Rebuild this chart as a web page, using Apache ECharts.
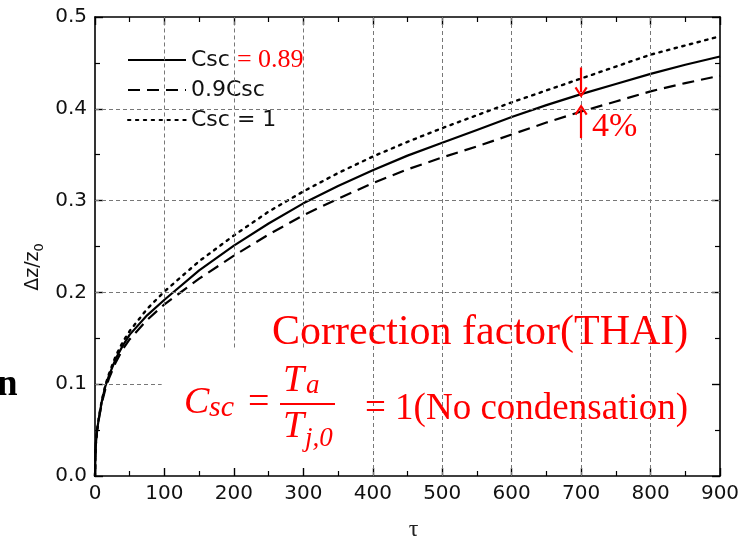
<!DOCTYPE html>
<html>
<head>
<meta charset="utf-8">
<script src="https://cdn.jsdelivr.net/npm/echarts@6/dist/echarts.min.js"></script>
<style>html,body{margin:0;padding:0;background:#fff}#c{width:747px;height:547px}</style>
</head>
<body>
<div id="c"></div>
<script>
// ---- data ----
const tau      = [0, 1, 3, 6, 10, 15, 20, 30, 40, 50, 75, 100, 150, 200, 250, 300, 350, 400, 450, 500, 550, 600, 650, 700, 750, 800, 850, 900];
const cscMain  = [0, 0.033, 0.050, 0.065, 0.082, 0.098, 0.109, 0.128, 0.142, 0.154, 0.175, 0.192, 0.224, 0.251, 0.275, 0.297, 0.316, 0.333, 0.349, 0.363, 0.377, 0.391, 0.404, 0.416, 0.427, 0.438, 0.448, 0.457];
const csc09    = [0, 0.032, 0.049, 0.064, 0.080, 0.095, 0.106, 0.124, 0.138, 0.149, 0.170, 0.187, 0.215, 0.240, 0.263, 0.284, 0.302, 0.319, 0.334, 0.347, 0.359, 0.372, 0.385, 0.397, 0.408, 0.419, 0.428, 0.436];
const csc1     = [0, 0.033, 0.050, 0.066, 0.083, 0.099, 0.111, 0.131, 0.146, 0.158, 0.182, 0.201, 0.234, 0.262, 0.288, 0.310, 0.330, 0.348, 0.364, 0.379, 0.393, 0.407, 0.420, 0.433, 0.446, 0.459, 0.469, 0.479];
const seriesNames = ['Csc', '0.9Csc', 'Csc = 1'];
const xTickMax = 900, xTickStep = 100;
const yTickMax = 0.5, yTickStep = 0.1;
// grid lines (partially hidden in the reference)
const xGridFull = [400, 500, 600, 700, 800];
const xGridCut = [100, 200, 300];   // start above yCut
const yCut = 0.14;
const yGridFull = [0.2, 0.3, 0.4];
const yGridShort = [0.1];           // only up to xShort
const xShort = 96;
// arrows at tau = 700
const arrowTau = 700;
const arrowDown = [0.445, 0.418];
const arrowUp = [0.368, 0.399];

const chart = echarts.init(document.getElementById('c'), null, {renderer: 'canvas'});
const RED = '#ff0000';
const tickFont = 'DejaVu Sans';

const gridStyle = {color: '#777', type: [4, 3], width: 1};
const gridLines = [];
xGridFull.forEach(v => gridLines.push([{coord: [v, 0]}, {coord: [v, yTickMax]}]));
xGridCut.forEach(v => gridLines.push([{coord: [v, yCut]}, {coord: [v, yTickMax]}]));
yGridFull.forEach(v => gridLines.push([{coord: [0, v]}, {coord: [xTickMax, v]}]));
yGridShort.forEach(v => gridLines.push([{coord: [0, v]}, {coord: [xShort, v]}]));

const vArrow = 'path://M5,0 L10,9 L8.6,10 L5,3.5 L1.4,10 L0,9 Z';

function axisCommon(showLabel, fmt) {
  return {
    axisLine: {show: true, onZero: false, lineStyle: {color: '#000', width: 1.6}},
    axisTick: {show: true, inside: true, length: 8, lineStyle: {color: '#000', width: 1.4}},
    minorTick: {show: true, splitNumber: 2, length: 5, lineStyle: {color: '#000', width: 1.2}},
    splitLine: {show: false},
    axisLabel: {show: showLabel, color: '#111', fontFamily: tickFont, fontSize: 20, formatter: fmt}
  };
}

const option = {
  animation: false,
  backgroundColor: '#fff',
  grid: {left: 95, right: 27, top: 17, bottom: 70, containLabel: false},
  xAxis: [
    Object.assign({type: 'value', min: 0, max: xTickMax, interval: xTickStep, position: 'bottom',
      name: 'τ', nameLocation: 'middle', nameGap: 42,
      nameTextStyle: {fontFamily: 'Liberation Serif', fontSize: 24, color: '#222', padding: [0, 0, 0, 12]}},
      axisCommon(true, v => String(v))),
    Object.assign({type: 'value', min: 0, max: xTickMax, interval: xTickStep, position: 'top'}, axisCommon(false))
  ],
  yAxis: [
    Object.assign({type: 'value', min: 0, max: yTickMax, interval: yTickStep, position: 'left'},
      axisCommon(true, v => v.toFixed(1))),
    Object.assign({type: 'value', min: 0, max: yTickMax, interval: yTickStep, position: 'right'}, axisCommon(false))
  ],
  legend: {
    left: 122, top: 41, orient: 'vertical', itemWidth: 58, itemHeight: 14, itemGap: 2,
    selectedMode: false,
    itemStyle: {opacity: 0},
    data: seriesNames,
    textStyle: {fontFamily: tickFont, fontSize: 22, color: '#111', lineHeight: 28,
      rich: {r: {fontFamily: 'Liberation Serif', fontSize: 26, color: RED, lineHeight: 28}}},
    formatter: function (n) { return n === 'Csc' ? 'Csc {r|= 0.89}' : n; }
  },
  series: [
    {
      name: 'grid', type: 'line', data: [], silent: true, z: 1,
      markLine: {silent: true, symbol: ['none', 'none'], label: {show: false}, lineStyle: gridStyle,
        emphasis: {disabled: true}, data: gridLines, animation: false}
    },
    {name: seriesNames[0], type: 'line', data: tau.map((t, i) => [t, cscMain[i]]), showSymbol: false, symbol: 'none',
      smooth: false, lineStyle: {color: '#000', width: 2.2, type: 'solid'}, itemStyle: {color: '#000'}, z: 3},
    {name: seriesNames[1], type: 'line', data: tau.map((t, i) => [t, csc09[i]]), showSymbol: false, symbol: 'none',
      smooth: false, lineStyle: {color: '#000', width: 2.2, type: [12, 7]}, itemStyle: {color: '#000'}, z: 3},
    {name: seriesNames[2], type: 'line', data: tau.map((t, i) => [t, csc1[i]]), showSymbol: false, symbol: 'none',
      smooth: false, lineStyle: {color: '#000', width: 2.4, type: [2.4, 5.5], cap: 'round'}, itemStyle: {color: '#000'}, z: 3},
    {
      name: 'arrows', type: 'line', data: [], silent: true, z: 4,
      markLine: {silent: true, symbol: ['none', vArrow], symbolSize: [13, 11], label: {show: false},
        lineStyle: {color: RED, width: 2.2, type: 'solid'}, itemStyle: {color: RED}, emphasis: {disabled: true},
        data: [
          [{coord: [arrowTau, arrowDown[0]]}, {coord: [arrowTau, arrowDown[1]]}],
          [{coord: [arrowTau, arrowUp[0]]}, {coord: [arrowTau, arrowUp[1]]}]
        ]}
    }
  ],
  graphic: [
    {type: 'text', x: 33, y: 267, rotation: Math.PI / 2, z: 10,
      style: {text: 'Δz/z{sub|0}', align: 'center', verticalAlign: 'middle', fill: '#111',
        font: '19px "DejaVu Sans"', lineHeight: 26,
        rich: {sub: {font: '13px "DejaVu Sans"', fill: '#111', lineHeight: 13, verticalAlign: 'bottom'}}}},
    {type: 'text', left: 592, top: 110, z: 10, style: {text: '4%', fill: RED, font: '34px "Liberation Serif"'}},
    {type: 'text', left: 272, top: 312, z: 10, style: {text: 'Correction factor(THAI)', fill: RED, font: '42px "Liberation Serif"'}},
    {type: 'text', left: 184, top: 384, z: 10, style: {text: 'C', fill: RED, font: 'italic 38px "Liberation Serif"'}},
    {type: 'text', left: 209, top: 393, z: 10, style: {text: 'sc', fill: RED, font: 'italic 30px "Liberation Serif"'}},
    {type: 'text', left: 248, top: 384, z: 10, style: {text: '=', fill: RED, font: '38px "Liberation Serif"'}},
    {type: 'text', left: 283, top: 362, z: 10, style: {text: 'T', fill: RED, font: 'italic 38px "Liberation Serif"'}},
    {type: 'text', left: 306, top: 372, z: 10, style: {text: 'a', fill: RED, font: 'italic 27px "Liberation Serif"'}},
    {type: 'line', z: 10, shape: {x1: 280, y1: 404, x2: 335, y2: 404}, style: {stroke: RED, lineWidth: 2}},
    {type: 'text', left: 283, top: 408, z: 10, style: {text: 'T', fill: RED, font: 'italic 38px "Liberation Serif"'}},
    {type: 'text', left: 305, top: 425, z: 10, style: {text: 'j,0', fill: RED, font: 'italic 27px "Liberation Serif"'}},
    {type: 'text', left: 365, top: 391, z: 10, style: {text: '= 1(No condensation)', fill: RED, font: '37px "Liberation Serif"'}},
    {type: 'text', left: -3, top: 367, z: 10, style: {text: 'n', fill: '#000', font: 'bold 37px "Liberation Serif"'}}
  ]
};
chart.setOption(option);
</script>
</body>
</html>
